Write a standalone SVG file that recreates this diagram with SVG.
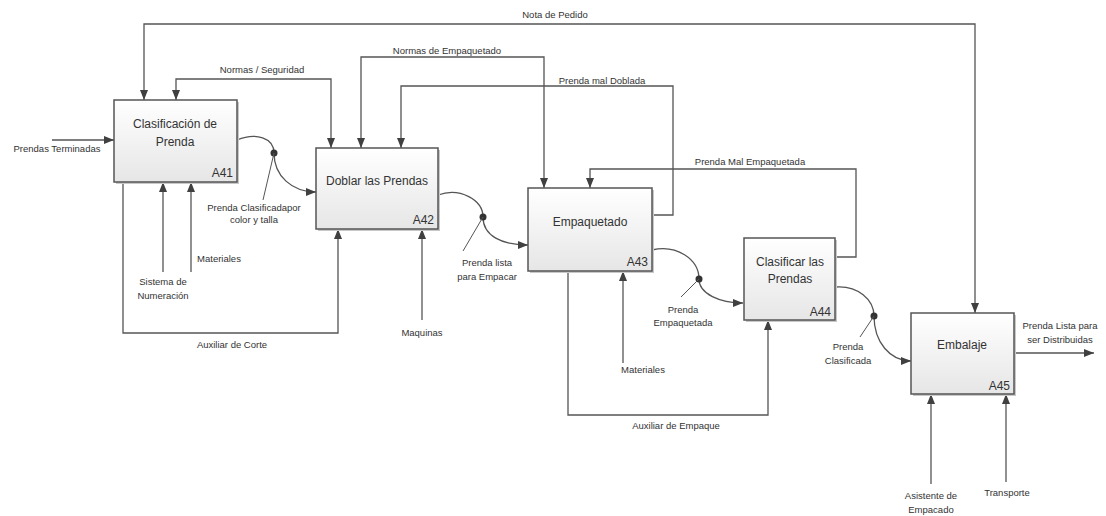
<svg xmlns="http://www.w3.org/2000/svg" width="1106" height="516" viewBox="0 0 1106 516">
<defs>
<linearGradient id="g" x1="0" y1="0" x2="0" y2="1">
<stop offset="0" stop-color="#ffffff"/>
<stop offset="1" stop-color="#e6e6e6"/>
</linearGradient>
<marker id="a" viewBox="0 0 10 8" refX="10" refY="4" markerWidth="10" markerHeight="8" markerUnits="userSpaceOnUse" orient="auto">
<path d="M0,0 L10,4 L0,8 z" fill="#404040"/>
</marker>
</defs>
<style>
.box{fill:url(#g);stroke:#555;stroke-width:1.5}
.sh{fill:#c8c8c8}
.t{font-family:"Liberation Sans",Arial,sans-serif;font-size:12px;fill:#333;text-anchor:middle}
.id{font-family:"Liberation Sans",Arial,sans-serif;font-size:12px;fill:#333;text-anchor:end}
.l{font-family:"Liberation Sans",Arial,sans-serif;font-size:9.5px;fill:#333;text-anchor:middle}
.c{fill:none;stroke:#555;stroke-width:1.3}
.ar{marker-end:url(#a)}
.ld{stroke:#555;stroke-width:1}
</style>
<rect width="1106" height="516" fill="#fff"/>
<g id="connectors">
<path class="c ar" d="M52,140 H114"/>
<path class="c ar" d="M555,24 H144 V100"/>
<path class="c ar" d="M555,24 H975 V313"/>
<path class="c ar" d="M262,79 H176 V100"/>
<path class="c ar" d="M262,79 H331 V148"/>
<path class="c ar" d="M447,57 H361 V148"/>
<path class="c ar" d="M447,57 H544 V188"/>
<path class="c ar" d="M652,215 H673 V86 H401 V148"/>
<path class="c ar" d="M835,257 H856 V169 H590 V188"/>
<path class="c ar" d="M163,272 V182"/>
<path class="c ar" d="M191,272 V182"/>
<path class="c ar" d="M123,182 V333 H338 V229"/>
<path class="c ar" d="M422,320 V229"/>
<path class="c ar" d="M623,363 V271"/>
<path class="c ar" d="M568,271 V415 H768 V320"/>
<path class="c ar" d="M931,484 V394"/>
<path class="c ar" d="M1006,482 V394"/>
<path class="c ar" d="M1014,353 H1094"/>
<path class="c ar" d="M237,140 C256,132 274,138 274,153 C274,176 292,192 316,192"/>
<path class="c ar" d="M438,195 C460,187 483,200 483,217 C483,236 502,245 528,245"/>
<path class="c ar" d="M652,250 C676,244 699,259 699,279 C699,294 720,303 743,303"/>
<path class="c ar" d="M835,287 C858,285 874,300 874,316 C874,342 890,361 911,361"/>
<g fill="#333">
<circle cx="274" cy="153" r="3.5"/>
<circle cx="483" cy="217" r="3.5"/>
<circle cx="699" cy="279" r="3.5"/>
<circle cx="874" cy="316" r="3.5"/>
</g>
<line class="ld" x1="274" y1="153" x2="263" y2="200"/>
<line class="ld" x1="483" y1="217" x2="463" y2="251"/>
<line class="ld" x1="699" y1="279" x2="681" y2="297"/>
<line class="ld" x1="874" y1="316" x2="860" y2="337"/>
<text class="l" x="57" y="152">Prendas Terminadas</text>
<text class="l" x="555" y="18">Nota de Pedido</text>
<text class="l" x="262" y="73">Normas / Seguridad</text>
<text class="l" x="447" y="54">Normas de Empaquetado</text>
<text class="l" x="602" y="84">Prenda mal Doblada</text>
<text class="l" x="750" y="165">Prenda Mal Empaquetada</text>
<text class="l" x="254" y="211">Prenda Clasificadapor</text>
<text class="l" x="254" y="223">color y talla</text>
<text class="l" x="219" y="262">Materiales</text>
<text class="l" x="163" y="285">Sistema de</text>
<text class="l" x="163" y="299">Numeración</text>
<text class="l" x="232" y="348">Auxiliar de Corte</text>
<text class="l" x="422" y="336">Maquinas</text>
<text class="l" x="487" y="266">Prenda lista</text>
<text class="l" x="487" y="280">para Empacar</text>
<text class="l" x="683" y="313">Prenda</text>
<text class="l" x="683" y="326">Empaquetada</text>
<text class="l" x="643" y="373">Materiales</text>
<text class="l" x="676" y="429">Auxiliar de Empaque</text>
<text class="l" x="848" y="350">Prenda</text>
<text class="l" x="848" y="364">Clasificada</text>
<text class="l" x="1060" y="329">Prenda Lista para</text>
<text class="l" x="1060" y="343">ser Distribuidas</text>
<text class="l" x="931" y="499">Asistente de</text>
<text class="l" x="931" y="513">Empacado</text>
<text class="l" x="1007" y="496">Transporte</text>
</g>
<g id="A41">
<rect class="sh" x="116" y="102" width="123" height="82"/>
<rect class="box" x="114" y="100" width="123" height="82"/>
<text class="t" x="175" y="128">Clasificación de</text>
<text class="t" x="175" y="146">Prenda</text>
<text class="id" x="233" y="177">A41</text>
</g>
<g id="A42">
<rect class="sh" x="318" y="150" width="122" height="81"/>
<rect class="box" x="316" y="148" width="122" height="81"/>
<text class="t" x="377" y="185">Doblar las Prendas</text>
<text class="id" x="434" y="224">A42</text>
</g>
<g id="A43">
<rect class="sh" x="530" y="190" width="124" height="83"/>
<rect class="box" x="528" y="188" width="124" height="83"/>
<text class="t" x="590" y="226">Empaquetado</text>
<text class="id" x="648" y="266">A43</text>
</g>
<g id="A44">
<rect class="sh" x="746" y="240" width="91" height="82"/>
<rect class="box" x="744" y="238" width="91" height="82"/>
<text class="t" x="790" y="266">Clasificar las</text>
<text class="t" x="790" y="283">Prendas</text>
<text class="id" x="831" y="316">A44</text>
</g>
<g id="A45">
<rect class="sh" x="913" y="315" width="103" height="81"/>
<rect class="box" x="911" y="313" width="103" height="81"/>
<text class="t" x="962" y="349">Embalaje</text>
<text class="id" x="1010" y="390">A45</text>
</g>
</svg>
